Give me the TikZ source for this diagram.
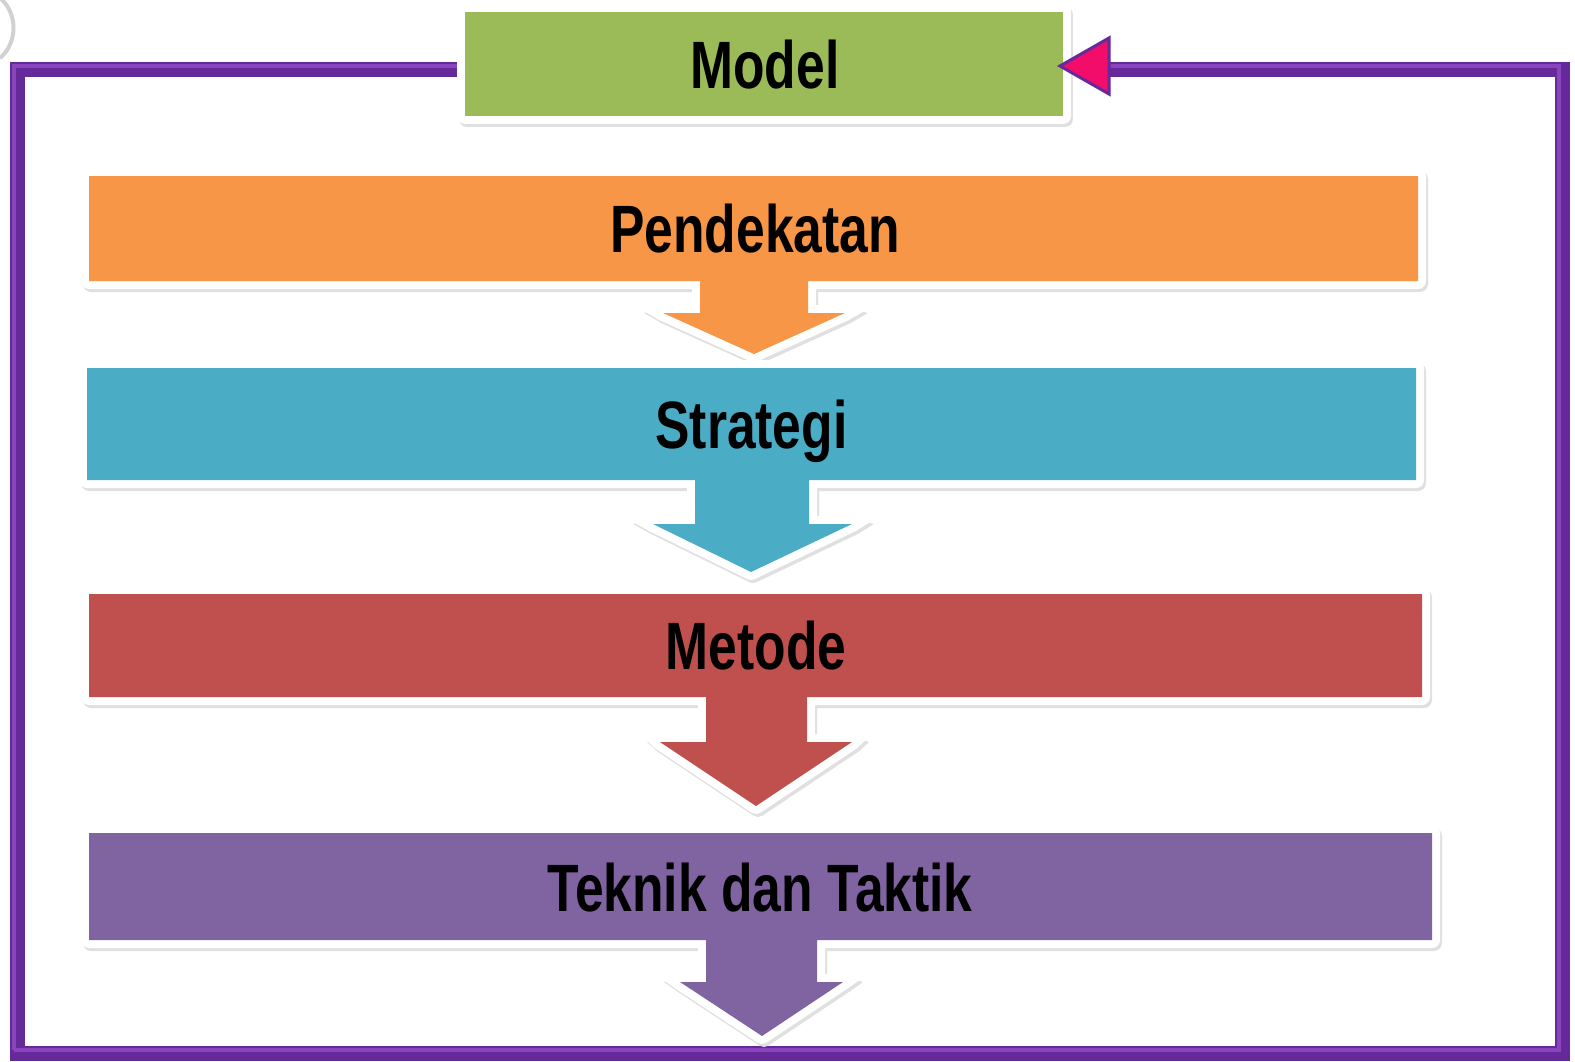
\documentclass[tikz,border=0pt]{standalone}
\usepackage{fontspec}
\newfontfamily\nbfont{Liberation Sans}[FakeStretch=0.77]
\usetikzlibrary{calc}
\definecolor{cgreen}{HTML}{9BBB59}
\definecolor{corange}{HTML}{F79646}
\definecolor{cblue}{HTML}{4BACC6}
\definecolor{cred}{HTML}{C0504D}
\definecolor{cpurple}{HTML}{8064A2}
\definecolor{framepurple}{HTML}{66299A}
\definecolor{framelight}{HTML}{8A44BE}
\definecolor{cpink}{HTML}{F20D6B}
\colorlet{shadowgray}{black!12}
\pgfdeclarelayer{background}
\pgfsetlayers{background,main}
% pointed corner at an arrow wing: #1 colour, #2 wing corner, #3 tip, #4 x reach, #5 angle
\newcommand\wingspike[5]{%
  \fill[#1] (#2) -- ($(#2)+(0,-8)$) -- ($(#2)+(#4,-3)$) -- ($(#2)!8pt!#5:(#3)$) -- cycle;}
\newcommand\allspikes[1]{%
  \wingspike{#1}{aL}{aT}{-21}{-90}\wingspike{#1}{aR}{aT}{21}{90}%
  \wingspike{#1}{bL}{bT}{-22}{-90}\wingspike{#1}{bR}{bT}{20}{90}%
  \wingspike{#1}{cL}{cT}{-15}{-90}\wingspike{#1}{cR}{cT}{15}{90}%
  \wingspike{#1}{dL}{dT}{-18}{-90}\wingspike{#1}{dR}{dT}{18}{90}}
\begin{document}
\begin{tikzpicture}[x=1pt,y=-1pt,
  lbl/.style={font=\nbfont\bfseries\fontsize{67}{70}\selectfont, text height=48pt, text depth=0pt, inner sep=0pt, anchor=center, text=black},
  shadowline/.style={draw=shadowgray, fill=shadowgray, line width=16pt, line join=round},
  whiteline/.style={draw=white, line width=16pt, line join=round},
  framestyle/.style={draw=framepurple, line width=15pt, line join=miter},
  framehi/.style={draw=framelight, line width=4pt, line join=miter},
  tristyle/.style={fill=cpink, draw=framepurple, line width=3pt, line join=miter}]
\useasboundingbox (0,0) rectangle (1575,1061);
% arrow-head points
\coordinate (aL) at (663,313); \coordinate (aR) at (845,313); \coordinate (aT) at (754,354);
\coordinate (bL) at (653,524); \coordinate (bR) at (852,524); \coordinate (bT) at (751,572);
\coordinate (cL) at (660,742); \coordinate (cR) at (852,742); \coordinate (cT) at (756,806);
\coordinate (dL) at (680,982); \coordinate (dR) at (843,982); \coordinate (dT) at (762,1036);
\def\blkM{(465,12) rectangle (1063,116)}
\def\blkA{(89,176) -- (1418,176) -- (1418,281) -- (808,281) -- (808,313) -- (aR) -- (aT) -- (aL) -- (700,313) -- (700,281) -- (89,281) -- cycle}
\def\blkB{(87,368) -- (1416,368) -- (1416,480) -- (809,480) -- (809,524) -- (bR) -- (bT) -- (bL) -- (695,524) -- (695,480) -- (87,480) -- cycle}
\def\blkC{(89,594) -- (1422,594) -- (1422,697) -- (807,697) -- (807,742) -- (cR) -- (cT) -- (cL) -- (706,742) -- (706,697) -- (89,697) -- cycle}
\def\blkD{(89,833) -- (1432,833) -- (1432,940) -- (817,940) -- (817,982) -- (dR) -- (dT) -- (dL) -- (706,982) -- (706,940) -- (89,940) -- cycle}
% faint grey arc at the top left corner
\draw[black!18, line width=4pt] (0,-2) .. controls (19,14) and (17,44) .. (0,58);
% shadows
\begin{scope}[transform canvas={shift={(2,3)}}]
\foreach \p in {\blkM,\blkA,\blkB,\blkC,\blkD}{
  \draw[shadowline] \p;
}
\allspikes{shadowgray}
\end{scope}
% white borders
\foreach \p in {\blkM,\blkA,\blkB,\blkC,\blkD}{
  \draw[whiteline] \p;
}
\allspikes{white}
% coloured fills
\fill[corange] \blkA;
\fill[cblue] \blkB;
\fill[cred] \blkC;
\fill[cpurple] \blkD;
\node[fill=cgreen, minimum width=598pt, minimum height=104pt, inner sep=0pt] (model) at (764,64) {};
\node[lbl] (modeltxt) at (765,64.5) {Model};
\node[lbl] (pend) at (755,228.5) {Pendekatan};
\node[lbl] (strat) at (751.5,424.5) {Strategi};
\node[lbl] (met) at (756,645.5) {Metode};
\node[lbl] (tek) at (760,887.5) {Teknik dan Taktik};
% frame connector that returns to Model
\coordinate (ftl) at (17,69);
\coordinate (fbl) at (17,1053);
\coordinate (fbr) at (1562,1053);
\coordinate (ftr) at (1562,69);
\coordinate (tribase) at (1108,69);
\begin{pgfonlayer}{background}
\draw[framestyle] (model.west |- ftl) -- (ftl) -- (fbl) -- (fbr) -- (ftr) -- (tribase);
\draw[framehi] ($(model.west |- ftl)+(0,-3)$) -- ($(ftl)+(-3,-3)$) -- ($(fbl)+(-3,-3)$);
\draw[framehi] ($(fbl)+(-3,-3)$) -- ($(fbr)+(-3,-3)$) -- ($(ftr)+(-3,-3)$) -- ($(tribase)+(0,-3)$);
\end{pgfonlayer}
\filldraw[tristyle] (1060,66) -- (1109,38) -- (1109,94) -- cycle;
\end{tikzpicture}
\end{document}
